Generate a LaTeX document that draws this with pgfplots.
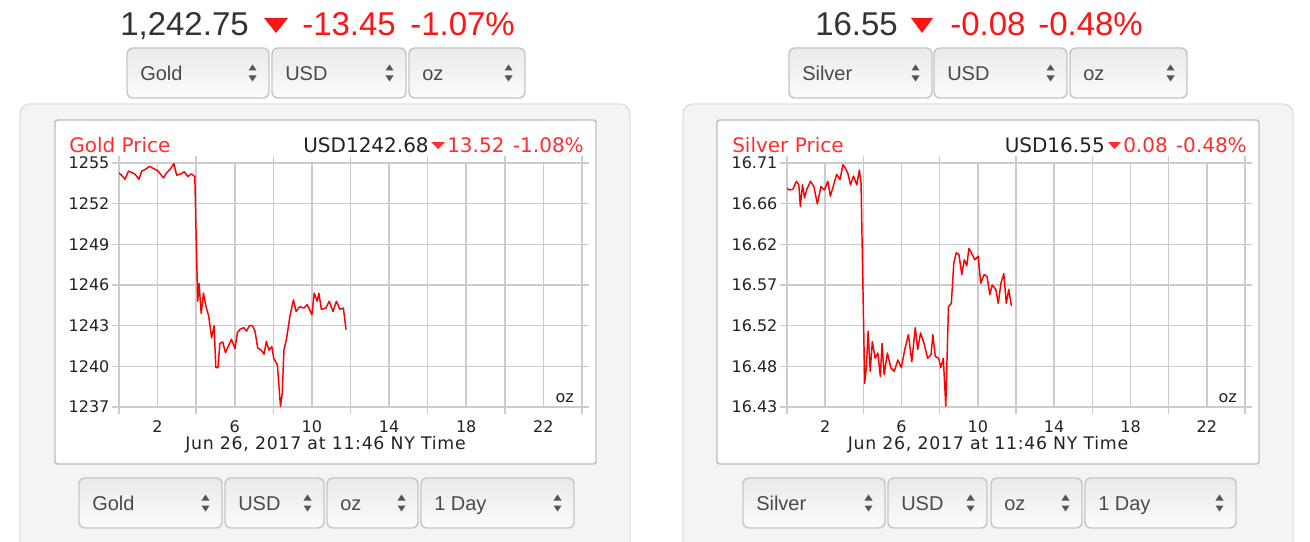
\documentclass[border=0pt]{standalone}
\usepackage{pgfplots}
\usepackage{pgfplotstable}
\pgfplotsset{compat=1.18}
\usepackage{fontspec}
\setmainfont{Liberation Sans}
\newfontfamily\chartfont{DejaVu Sans}
\newfontfamily\datefont{DejaVu Sans}[LetterSpace=4]
\definecolor{hred}{HTML}{FF1414}
\definecolor{tred}{HTML}{FF2D2D}
\definecolor{lred}{HTML}{FF0000}
\definecolor{hdark}{HTML}{333333}
\definecolor{ddtxt}{HTML}{4A4A4A}
\definecolor{ddarrow}{HTML}{555555}
\definecolor{ddborder}{HTML}{C6C6C6}
\definecolor{ddtop}{HTML}{EAEAEA}
\definecolor{ddbot}{HTML}{FBFBFB}
\definecolor{panelfill}{HTML}{F4F4F4}
\definecolor{panelline}{HTML}{DFDFDF}
\definecolor{boxline}{HTML}{BEBEBE}
\definecolor{gridc}{HTML}{CCCCCC}
\definecolor{tickc}{HTML}{222222}

\pgfplotstableread{
h p
0 1254.26
0.13 1254.1
0.31 1253.8
0.49 1254.4
0.67 1254.3
0.85 1254.15
1.03 1253.8
1.18 1254.4
1.39 1254.55
1.58 1254.75
1.85 1254.55
2.03 1254.4
2.30 1253.9
2.48 1254.3
2.66 1254.55
2.84 1254.95
2.99 1254.1
3.21 1254.2
3.39 1254.35
3.57 1254.0
3.75 1254.2
3.93 1254.0
3.98 1250.8
4.08 1244.8
4.15 1246.1
4.26 1243.9
4.38 1245.4
4.51 1244.4
4.65 1243.7
4.80 1242.1
4.93 1243.0
5.02 1239.9
5.13 1239.9
5.23 1241.7
5.38 1241.8
5.52 1241.0
5.67 1241.5
5.83 1242.0
6.01 1241.3
6.14 1242.5
6.29 1242.75
6.47 1242.85
6.61 1242.6
6.76 1243.0
6.92 1243.0
7.05 1242.6
7.19 1241.35
7.37 1241.2
7.52 1240.9
7.64 1241.85
7.77 1241.2
7.92 1241.45
8.02 1240.6
8.21 1240.1
8.37 1237.05
8.46 1238.0
8.55 1241.2
8.68 1242.0
8.86 1243.7
9.04 1244.9
9.18 1244.05
9.36 1244.4
9.58 1244.3
9.76 1244.55
10.0 1243.8
10.12 1245.4
10.27 1244.8
10.36 1245.4
10.49 1244.2
10.72 1244.3
10.90 1244.8
11.09 1244.05
11.27 1244.8
11.45 1244.2
11.63 1244.3
11.77 1242.7
}\golddata

\pgfplotstableread{
h p
0 16.681
0.13 16.679
0.31 16.680
0.49 16.689
0.62 16.685
0.70 16.660
0.81 16.685
0.92 16.670
1.04 16.680
1.23 16.689
1.41 16.683
1.59 16.663
1.78 16.683
1.96 16.679
2.14 16.689
2.27 16.672
2.42 16.683
2.60 16.697
2.78 16.691
2.93 16.708
3.06 16.704
3.19 16.698
3.33 16.685
3.48 16.695
3.66 16.685
3.79 16.702
3.88 16.687
4.07 16.457
4.16 16.476
4.25 16.517
4.36 16.471
4.47 16.505
4.62 16.486
4.76 16.492
4.89 16.465
4.98 16.503
5.09 16.467
5.26 16.492
5.44 16.475
5.62 16.471
5.81 16.484
5.99 16.475
6.17 16.496
6.36 16.513
6.54 16.482
6.72 16.521
6.85 16.496
7.00 16.515
7.18 16.503
7.37 16.486
7.55 16.490
7.64 16.513
7.77 16.488
7.95 16.486
8.06 16.475
8.19 16.486
8.32 16.431
8.46 16.545
8.61 16.549
8.74 16.595
8.87 16.607
9.01 16.605
9.16 16.582
9.29 16.599
9.42 16.592
9.53 16.612
9.66 16.607
9.84 16.599
10.02 16.603
10.15 16.572
10.33 16.582
10.48 16.580
10.63 16.559
10.75 16.570
10.94 16.565
11.07 16.549
11.21 16.572
11.36 16.583
11.49 16.549
11.62 16.565
11.76 16.546
}\silverdata

\newcommand{\dd}[5]{%
  \draw[draw=ddborder, line width=1.1pt, rounded corners=4.5pt, top color=ddtop, bottom color=ddbot] (#1,#3) rectangle (#2,#4);
  \node[anchor=base west, inner sep=0pt, text=ddtxt, font=\fontsize{15}{15}\selectfont] at ({#1+13},{(#3+#4)/2+7}) {#5};
  \fill[ddarrow] ({#2-20.5},{(#3+#4)/2-2.5}) -- ({#2-12.5},{(#3+#4)/2-2.5}) -- ({#2-16.5},{(#3+#4)/2-8.5}) -- cycle;
  \fill[ddarrow] ({#2-20.5},{(#3+#4)/2+2.5}) -- ({#2-12.5},{(#3+#4)/2+2.5}) -- ({#2-16.5},{(#3+#4)/2+8.5}) -- cycle;
}

\pgfplotsset{mychart/.style={
  scale only axis, xmin=0, xmax=24,
  axis line style={draw=gridc, line width=1.2pt},
  xtick={0,4,...,24}, xticklabels={},
  minor xtick={2,6,...,22},
  grid=both,
  major grid style={draw=gridc, line width=1.2pt},
  minor grid style={draw=gridc, line width=1.2pt},
  tick align=outside, major tick length=5pt, minor tick length=0pt,
  tick style={draw=gridc, line width=1.2pt},
  extra x ticks={2,6,...,22}, extra x tick labels={2,6,10,14,18,22},
  extra x tick style={major tick length=0pt, grid=none},
  xticklabel style={font=\chartfont\fontsize{12}{12}\selectfont, text=tickc, inner sep=0pt, anchor=north, yshift=-10pt},
  yticklabel style={font=\chartfont\fontsize{12}{12}\selectfont, text=tickc, inner sep=0pt, anchor=east, xshift=-2pt},
}}

\begin{document}
\begin{tikzpicture}[x=0.75pt,y=-0.75pt]
\useasboundingbox (0,0) rectangle (1310,542);
\clip (0,0) rectangle (1310,542);
\fill[white] (0,0) rectangle (1310,542);

% panels
\draw[fill=panelfill, draw=panelline, line width=1.1pt, rounded corners=7.5pt] (20,104) rectangle (630,560);
\draw[fill=panelfill, draw=panelline, line width=1.1pt, rounded corners=7.5pt] (683,104) rectangle (1293,560);
\draw[fill=white, draw=boxline, line width=1.1pt, rounded corners=2pt] (55,120) rectangle (596,464);
\draw[fill=white, draw=boxline, line width=1.1pt, rounded corners=2pt] (717,120) rectangle (1259,464);

% top dropdowns
\dd{127}{269}{48}{98}{Gold}
\dd{272}{406}{48}{98}{USD}
\dd{409}{525}{48}{98}{oz}
\dd{789}{932}{48}{98}{Silver}
\dd{934}{1067}{48}{98}{USD}
\dd{1070}{1187}{48}{98}{oz}

% bottom dropdowns
\dd{79}{222}{478}{528}{Gold}
\dd{225}{324}{478}{528}{USD}
\dd{327}{418}{478}{528}{oz}
\dd{421}{574}{478}{528}{1 Day}
\dd{743}{885}{478}{528}{Silver}
\dd{888}{987}{478}{528}{USD}
\dd{991}{1082}{478}{528}{oz}
\dd{1085}{1236}{478}{528}{1 Day}

% headers
\node[anchor=base west, inner sep=0pt, text=hdark, font=\fontsize{24.75}{24.75}\selectfont] at (120,36) {1,242.75};
\fill[hred] (264,18) -- (288,18) -- (276,33) -- cycle;
\node[anchor=base west, inner sep=0pt, text=hred, font=\fontsize{24.75}{24.75}\selectfont] at (302,36) {-13.45};
\node[anchor=base west, inner sep=0pt, text=hred, font=\fontsize{24.75}{24.75}\selectfont] at (410,36) {-1.07\%};

\node[anchor=base west, inner sep=0pt, text=hdark, font=\fontsize{24.75}{24.75}\selectfont] at (815,36) {16.55};
\fill[hred] (911,18) -- (933,18) -- (922,33) -- cycle;
\node[anchor=base west, inner sep=0pt, text=hred, font=\fontsize{24.75}{24.75}\selectfont] at (950,36) {-0.08};
\node[anchor=base west, inner sep=0pt, text=hred, font=\fontsize{24.75}{24.75}\selectfont] at (1038,36) {-0.48\%};

\coordinate (ga) at (119,407);
\coordinate (sa) at (787,407);

\begin{axis}[mychart, at={(ga)}, anchor=south west, width=347.25pt, height=183pt,
  ymin=1237, ymax=1255, ytick={1237,1240,1243,1246,1249,1252,1255},
  yticklabels={1237,1240,1243,1246,1249,1252,1255}]
\addplot[lred, line width=1.1pt, line join=round, mark=none] table[x=h,y=p]{\golddata};
\end{axis}

\begin{axis}[mychart, at={(sa)}, anchor=south west, width=343.5pt, height=183pt,
  ymin=16.43, ymax=16.71, ytick={16.43,16.47667,16.52333,16.57,16.61667,16.66333,16.71},
  yticklabels={16.43,16.48,16.52,16.57,16.62,16.66,16.71}]
\addplot[lred, line width=1.1pt, line join=round, mark=none] table[x=h,y=p]{\silverdata};
\end{axis}

% chart texts gold
\node[anchor=base west, inner sep=0pt, text=tred, font=\chartfont\fontsize{15}{15}\selectfont] at (69,152) {Gold Price};
\node[anchor=base east, inner sep=0pt, text=tickc, font=\chartfont\fontsize{15}{15}\selectfont] at (429,152) {USD1242.68};
\fill[tred] (431,142) -- (445,142) -- (438,149) -- cycle;
\node[anchor=base west, inner sep=0pt, text=tred, font=\chartfont\fontsize{15}{15}\selectfont] at (447,152) {13.52};
\node[anchor=base east, inner sep=0pt, text=tred, font=\chartfont\fontsize{15}{15}\selectfont] at (584,152) {-1.08\%};
\node[anchor=base, inner sep=0pt, text=tickc, font=\datefont\fontsize{13}{13}\selectfont] at (325.5,449) {Jun 26, 2017 at 11:46 NY Time};
\node[anchor=base east, inner sep=0pt, text=tickc, font=\chartfont\fontsize{12}{12}\selectfont] at (574,402) {oz};

% chart texts silver
\node[anchor=base west, inner sep=0pt, text=tred, font=\chartfont\fontsize{15}{15}\selectfont] at (732,152) {Silver Price};
\node[anchor=base east, inner sep=0pt, text=tickc, font=\chartfont\fontsize{15}{15}\selectfont] at (1105,152) {USD16.55};
\fill[tred] (1108,142) -- (1121,142) -- (1114.5,149) -- cycle;
\node[anchor=base west, inner sep=0pt, text=tred, font=\chartfont\fontsize{15}{15}\selectfont] at (1123,152) {0.08};
\node[anchor=base east, inner sep=0pt, text=tred, font=\chartfont\fontsize{15}{15}\selectfont] at (1247,152) {-0.48\%};
\node[anchor=base, inner sep=0pt, text=tickc, font=\datefont\fontsize{13}{13}\selectfont] at (988,449) {Jun 26, 2017 at 11:46 NY Time};
\node[anchor=base east, inner sep=0pt, text=tickc, font=\chartfont\fontsize{12}{12}\selectfont] at (1237,402) {oz};
\end{tikzpicture}
\end{document}
